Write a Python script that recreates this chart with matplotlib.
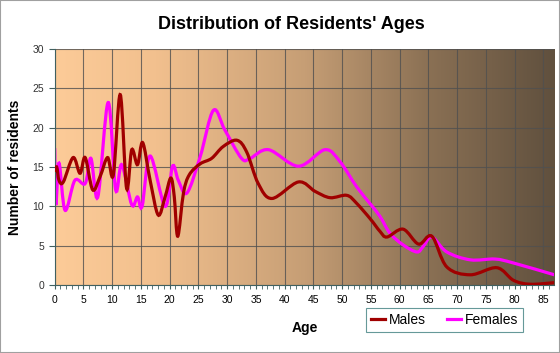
import numpy as np
import matplotlib
matplotlib.use("Agg")
import matplotlib.pyplot as plt
from matplotlib.colors import LinearSegmentedColormap
from matplotlib.path import Path
from matplotlib.patches import PathPatch
from matplotlib.lines import Line2D

plt.rcParams['font.family'] = ['Liberation Sans', 'DejaVu Sans']

# values
male_ages = [0, 0.35, 0.75, 1.5, 3.2, 4.4, 5.3, 6.6, 7.9, 9.2, 10.2, 11.4, 12.5, 13.4,
             14.4, 15.3, 16.6, 18.0, 19.2, 20.2, 20.8, 21.4, 22.4, 23.4, 25.3, 27.3,
             29.3, 31.7, 33.4, 35.4, 37.8, 42.4, 45.3, 47.9, 50.8, 52.5, 54.9, 56.6,
             57.8, 60.6, 63.3, 65.6, 68.2, 72.3, 76.9, 79.8, 82.7, 86.9]
male_counts = [14.4, 15.0, 13.3, 13.1, 16.2, 14.2, 16.2, 12.1, 13.8, 16.2, 14.0, 24.2,
               12.3, 17.2, 15.3, 18.1, 13.3, 8.9, 11.2, 13.6, 11.2, 6.2, 11.7, 14.0,
               15.4, 16.1, 17.6, 18.4, 16.9, 12.9, 11.0, 13.1, 11.9, 11.1, 11.4, 10.4,
               8.4, 6.8, 6.1, 7.1, 5.2, 6.2, 2.3, 1.3, 2.2, 0.6, 0.1, 0.3]

female_ages = [0, 0.2, 0.75, 1.8, 3.5, 5.3, 6.3, 7.5, 9.3, 10.6, 11.65, 13.4, 14.4,
               15.2, 16.6, 19.2, 20.5, 21.5, 23.0, 25.3, 27.6, 29.6, 32.5, 34.0, 37.2,
               42.4, 47.0, 49.6, 52.5, 54.9, 56.6, 58.3, 60.6, 63.0, 64.1, 65.6, 68.2,
               72.3, 76.6, 79.8, 86.9]
female_counts = [17.4, 10.2, 15.5, 9.5, 13.3, 12.9, 16.1, 11.2, 23.2, 12.1, 15.3, 10.2,
                 11.2, 10.0, 16.4, 10.0, 15.1, 13.3, 11.7, 16.3, 22.2, 19.7, 16.1, 16.1,
                 17.2, 15.1, 17.2, 15.7, 12.5, 10.3, 8.7, 6.6, 5.1, 4.2, 4.9, 6.1, 4.2,
                 3.2, 3.3, 2.8, 1.3]

x_ticks = list(range(0, 90, 5))
y_ticks = list(range(0, 35, 5))


def smooth_path(xs, ys):
    # bezier path passing through every point (catmull-rom style tangents)
    pts = np.column_stack([xs, ys]).astype(float)
    verts = [pts[0]]
    codes = [Path.MOVETO]
    n = len(pts)
    for i in range(n - 1):
        p0 = pts[max(i - 1, 0)]
        p1 = pts[i]
        p2 = pts[i + 1]
        p3 = pts[min(i + 2, n - 1)]
        c1 = p1 + (p2 - p0) / 6.0
        c2 = p2 - (p3 - p1) / 6.0
        verts += [c1, c2, p2]
        codes += [Path.CURVE4] * 3
    return Path(verts, codes)


fig = plt.figure(figsize=(5.6, 3.53), dpi=100)
fig.patch.set_facecolor('white')
ax = fig.add_axes([0.0977, 0.1926, 0.8921, 0.6686])

# background gradient, peach on the left to dark brown on the right
bg = LinearSegmentedColormap.from_list('bg', [
    (0.0, (252/255, 203/255, 152/255)),
    (0.2, (242/255, 192/255, 142/255)),
    (0.5, (198/255, 158/255, 117/255)),
    (0.75, (138/255, 112/255, 84/255)),
    (1.0, (96/255, 80/255, 62/255)),
])
ax.imshow(np.linspace(0, 1, 256).reshape(1, -1), cmap=bg, aspect='auto',
          extent=[0, 1, 0, 1], transform=ax.transAxes, zorder=0)

male_color = '#a00000'
female_color = '#ff00ff'
ax.add_patch(PathPatch(smooth_path(female_ages, female_counts), fill=False,
                       edgecolor=female_color, lw=2.3, zorder=2, clip_on=True))
ax.add_patch(PathPatch(smooth_path(male_ages, male_counts), fill=False,
                       edgecolor=male_color, lw=2.3, zorder=3, clip_on=True))

ax.set_xlim(0, 86.9)
ax.set_ylim(0, 30)
ax.set_xticks(x_ticks)
ax.set_xticks(range(0, 87), minor=True)
ax.set_yticks(y_ticks)
ax.grid(True, which='major', color='#505050', lw=0.8, alpha=0.8)
ax.tick_params(axis='x', which='both', length=3, color='#406060', labelsize=7.5,
               pad=4, direction='out')
ax.tick_params(axis='y', length=4, color='#406060', labelsize=7.5, labelcolor='#333333')
for s in ['top', 'right']:
    ax.spines[s].set_visible(False)
for s in ['left', 'bottom']:
    ax.spines[s].set_color('#406060')

ax.set_xlabel('Age', fontsize=10, fontweight='bold', labelpad=12)
ax.set_ylabel('Number of residents', fontsize=10, fontweight='bold', labelpad=8)
fig.text(0.52, 0.931, "Distribution of Residents' Ages", ha='center', va='center',
         fontsize=13, fontweight='bold')

handles = [Line2D([], [], color=male_color, lw=2.3),
           Line2D([], [], color=female_color, lw=2.3)]
leg = fig.legend(handles, ['Males', 'Females'], loc='center',
                 bbox_to_anchor=(0.794, 0.094), ncol=2, fontsize=10,
                 frameon=True, fancybox=False, handlelength=1.0, handletextpad=0.3,
                 columnspacing=1.5, borderpad=0.35)
leg.get_frame().set_edgecolor('#408080')
leg.get_frame().set_facecolor('white')
leg.get_frame().set_linewidth(0.8)

fig.patches.append(plt.Rectangle((0, 0), 1, 1, transform=fig.transFigure, fill=False,
                                 edgecolor='#a0a0a0', lw=1.5))

fig.savefig('out.png', dpi=100)
